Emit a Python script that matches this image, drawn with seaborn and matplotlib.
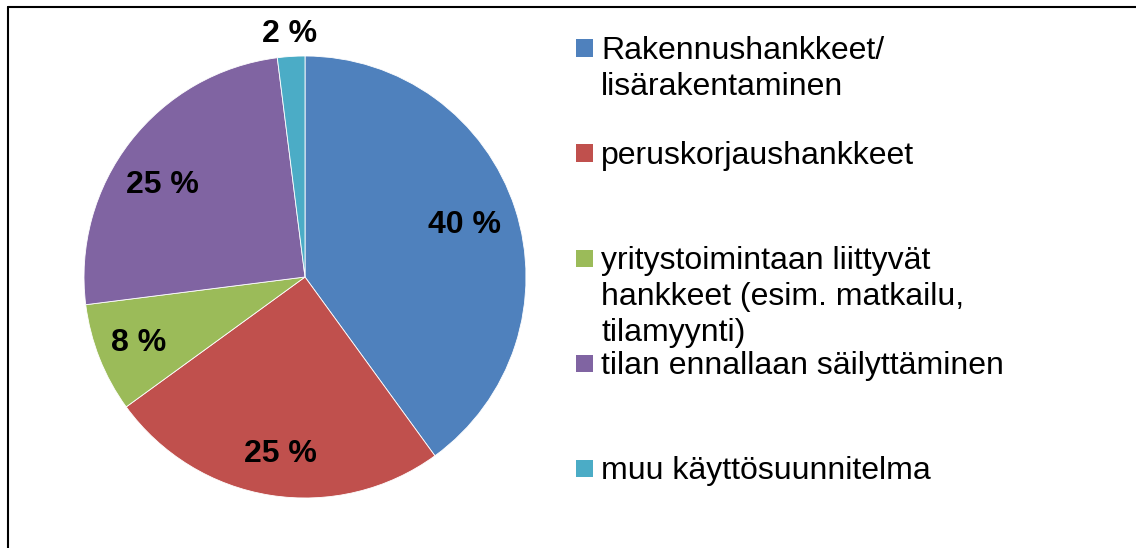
import matplotlib
matplotlib.use("Agg")
import numpy as np
import matplotlib.pyplot as plt
import seaborn as sns
from matplotlib.patches import Rectangle
from matplotlib.lines import Line2D

# data
categories = [
    "Rakennushankkeet/\nlisärakentaminen",
    "peruskorjaushankkeet",
    "yritystoimintaan liittyvät\nhankkeet (esim. matkailu,\ntilamyynti)",
    "tilan ennallaan säilyttäminen",
    "muu käyttösuunnitelma",
]
shares = [40, 25, 8, 25, 2]
colors = ["#4F81BD", "#C0504D", "#9BBB59", "#8064A2", "#4BACC6"]

# where each percent label sits: fraction of the radius and angle nudge (deg)
label_dist = [0.76, 0.81, 0.81, 0.77, 1.10]
label_shift = [0, 1, 0, 5, 0]
# vertical positions of the legend keys (px from top)
legend_y = [48, 153, 258, 363, 468]

sns.set_theme(style="white")
plt.rcParams['font.family'] = ['Liberation Sans', 'DejaVu Sans']

W, H = 1136, 548
fig = plt.figure(figsize=(W / 100, H / 100), dpi=100)
fig.patch.set_facecolor("white")

# pie centred at (305, 277) px, radius 221 px
ax = fig.add_axes([(305 - 221) / W, (H - 277 - 221) / H, 442 / W, 442 / H])
wedges, _ = ax.pie(shares, colors=colors, startangle=90, counterclock=False, radius=1,
                   wedgeprops=dict(edgecolor="white", linewidth=0.6))
ax.set_xlim(-1, 1)
ax.set_ylim(-1, 1)
ax.set_aspect("equal")
ax.axis("off")

for w, v, d, s in zip(wedges, shares, label_dist, label_shift):
    mid = np.deg2rad((w.theta1 + w.theta2) / 2 + s)
    ax.text(d * np.cos(mid), d * np.sin(mid), f"{v} %", ha="center", va="center",
            fontsize=23, fontweight="bold", color="black")

# legend drawn by hand so multi-line entries keep the key on the first line
for i, y in enumerate(legend_y):
    fig.patches.append(Rectangle((576 / W, 1 - (y + 8.5) / H), 17 / W, 17 / H,
                                 facecolor=colors[i], edgecolor="none",
                                 transform=fig.transFigure))
    for j, line in enumerate(categories[i].split("\n")):
        fig.text(601 / W, 1 - (y + 11 + 36 * j) / H, line, fontsize=23,
                 va="baseline", ha="left", color="black")

# chart frame (only top and left edges fall inside the image)
fig.add_artist(Line2D([8 / W, 8 / W], [0, 1 - 7 / H], color="black", lw=1.5,
                      transform=fig.transFigure))
fig.add_artist(Line2D([8 / W, 1], [1 - 7 / H, 1 - 7 / H], color="black", lw=1.5,
                      transform=fig.transFigure))

fig.savefig("out.png", dpi=100)
